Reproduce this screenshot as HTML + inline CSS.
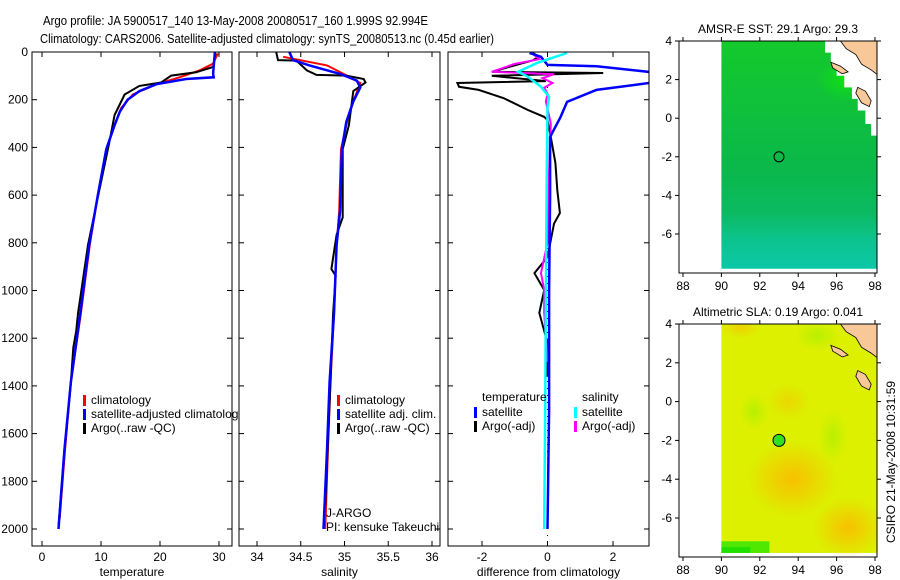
<!DOCTYPE html>
<html><head><meta charset="utf-8"><style>
html,body{margin:0;padding:0;background:#fff;}
svg{display:block;font-family:"Liberation Sans",sans-serif;}
text{font-size:12px;fill:#000;}
</style></head><body>
<svg id="fig" width="900" height="580" viewBox="0 0 900 580" xmlns="http://www.w3.org/2000/svg">
<defs>
<clipPath id="c1"><rect x="32" y="52" width="200" height="494"/></clipPath>
<clipPath id="c2"><rect x="239" y="52" width="201" height="494"/></clipPath>
<clipPath id="c3"><rect x="448" y="52" width="201" height="494"/></clipPath>
<linearGradient id="sstg" x1="0" y1="0" x2="0" y2="1">
<stop offset="0" stop-color="#14c92c"/><stop offset="0.3" stop-color="#0fc03c"/>
<stop offset="0.55" stop-color="#0bb84a"/><stop offset="0.75" stop-color="#0bba60"/>
<stop offset="0.88" stop-color="#0cc490"/><stop offset="1" stop-color="#0cc8a8"/>
</linearGradient>
<radialGradient id="brg"><stop offset="0" stop-color="#10e014"/><stop offset="1" stop-color="#10e014" stop-opacity="0"/></radialGradient>
<radialGradient id="org"><stop offset="0" stop-color="#f8c000"/><stop offset="1" stop-color="#f8c000" stop-opacity="0"/></radialGradient>
<radialGradient id="grg"><stop offset="0" stop-color="#b8f000"/><stop offset="1" stop-color="#b8f000" stop-opacity="0"/></radialGradient>
<clipPath id="m1c"><rect x="679" y="41" width="198" height="232"/></clipPath>
<clipPath id="m2c"><rect x="679" y="324" width="198" height="233"/></clipPath>
</defs>

<text x="43" y="25" font-size="13" style="font-size:13px" textLength="385" lengthAdjust="spacingAndGlyphs">Argo profile: JA 5900517_140 13-May-2008 20080517_160 1.999S 92.994E</text>
<text x="40" y="43" style="font-size:13px" textLength="454" lengthAdjust="spacingAndGlyphs">Climatology: CARS2006. Satellite-adjusted climatology: synTS_20080513.nc (0.45d earlier)</text>

<g id="p1"></g>
<g id="p2"></g>
<g id="p3"></g>
<g id="m1"></g>
<g id="m2"></g>

<text transform="translate(895,462) rotate(-90)" text-anchor="middle">CSIRO 21-May-2008 10:31:59</text>
</svg>
<script>
// ---------- data ----------
const tBlueD=[0,92,106,113,135,164,200,250,307,407,594,809,1096,1383,1670,2000];
const tBlueV=[29.3,29.0,29.1,24.4,19.4,16.5,14.5,13.2,12.3,10.9,9.5,8.0,6.5,4.9,3.8,2.8];
const tRedD=[6,49,77,106,135,178,235,307,407,594,809,1096,1383,1670,1957];
const tRedV=[29.8,29.0,26.7,23.3,19.4,15.4,13.4,12.3,10.9,9.5,8.1,6.6,4.9,3.9,3.0];
const tBlkD=[5,63,85,99,128,142,178,264,379,594,809,1096,1170,1240,1383,1670,1990];
const tBlkV=[29.4,29.0,26.1,21.9,20.2,16.5,14.0,12.3,11.4,9.6,7.8,6.1,5.8,5.3,4.9,3.8,2.8];

const sBlueD=[0,34,56,92,120,149,207,293,407,666,809,1096,1383,1670,2000];
const sBlueV=[34.37,34.41,34.6,34.95,35.14,35.18,35.1,35.02,34.97,34.95,34.91,34.88,34.83,34.8,34.76];
const sRedD=[20,56,92,130,207,293,407,666,809,1096,1383,1670,2000];
const sRedV=[34.3,34.8,34.99,35.18,35.1,35.03,34.96,34.94,34.91,34.88,34.84,34.81,34.78];
const sBlkD=[0,34,36,77,96,99,113,128,164,307,407,694,766,910,938,1096,1383,1900];
const sBlkV=[34.22,34.24,34.45,34.57,34.68,35.02,35.22,35.24,35.1,35.05,34.98,34.98,34.91,34.85,34.9,34.87,34.84,34.78];

const dTsD=[4,20,54,60,88,130,159,209,272,356,600,1000,1500,2000];
const dTsV=[-0.55,-0.2,0.0,1.5,3.4,3.1,1.5,0.6,0.4,0.08,0.08,0.05,0.05,0.0];
const dTaD=[4,20,35,83,88,100,122,130,146,159,193,243,272,285,356,465,579,675,720,860,927,998,1094,1220,1362];
const dTaV=[-0.45,-0.25,-0.45,-1.7,1.7,-1.7,-0.05,-2.75,-2.7,-2.1,-1.35,-0.6,-0.1,0.0,0.1,0.24,0.3,0.38,0.2,0.0,-0.4,-0.1,-0.25,0.0,0.0];
const dSsD=[4,45,83,104,146,188,230,500,1000,1500,2000];
const dSsV=[0.6,-0.3,-0.9,-0.6,-0.2,0.05,0.0,-0.02,-0.05,-0.07,-0.1];
const dSaD=[8,30,50,83,93,110,130,150,175,208,300,500,800,927,998,1094,1300];
const dSaV=[-0.45,-0.25,-1.0,-1.7,0.2,-0.15,0.15,-0.1,0.0,-0.05,0.1,0.05,0.0,-0.2,-0.1,-0.1,0.0];

const depthTicks=[0,200,400,600,800,1000,1200,1400,1600,1800,2000];
const tTicks=[0,10,20,30];
const sTicks=[34,34.5,35,35.5,36];
const dTicks=[-2,0,2];
const lonTicks=[88,90,92,94,96,98];
const latTicks=[-6,-4,-2,0,2,4];

// ---------- scales ----------
const yD=d=>52+d*0.2385;
const xT=t=>42+t*5.9;
const xS=s=>257+(s-34)*87.5;
const xDf=v=>547.5+v*32.75;
const NS='http://www.w3.org/2000/svg';
function mk(tag,attrs,parent){const e=document.createElementNS(NS,tag);for(const k in attrs)e.setAttribute(k,attrs[k]);parent.appendChild(e);return e;}
function txt(parent,x,y,s,anchor){const e=mk('text',{x:x,y:y,'text-anchor':anchor||'start'},parent);e.textContent=s;return e;}

function panel(g,x0,x1,clip,xfn,xt,xlabel,showY){
  const bg=mk('rect',{x:x0,y:52,width:x1-x0,height:494,fill:'#fff',stroke:'none'},g);
  
  
  depthTicks.forEach(d=>{const y=yD(d);
    mk('line',{x1:x0,y1:y,x2:x0+5,y2:y,stroke:'#000'},g);
    mk('line',{x1:x1,y1:y,x2:x1-5,y2:y,stroke:'#000'},g);
    if(showY){const t=txt(g,28,y+4,String(d),'end');
      
      }
  });
  xt.forEach(v=>{const x=xfn(v);
    mk('line',{x1:x,y1:546,x2:x,y2:541,stroke:'#000'},g);
    mk('line',{x1:x,y1:52,x2:x,y2:57,stroke:'#000'},g);
    const t=txt(g,x,561,String(v),'middle');
    
    
  });
  const xl=txt(g,(x0+x1)/2,576,xlabel,'middle');
  
  
  const lg=mk('g',{'clip-path':'url(#'+clip+')'},g);
  return lg;
}
function line(g,D,V,xfn,color,w,name){
  const pts=D.map((d,i)=>xfn(V[i]).toFixed(1)+','+yD(d).toFixed(1)).join(' ');
  const p=mk('polyline',{points:pts,fill:'none',stroke:color,'stroke-width':w,'stroke-linejoin':'miter'},g);
  
  
}
function frame(g,x0,x1){mk('rect',{x:x0,y:52,width:x1-x0,height:494,fill:'none',stroke:'#000','stroke-width':1},g);}
function legend(g,x,y,color,label,name){
  mk('rect',{x:x-8,y:y-9,width:3,height:11,fill:color},g);
  const t=txt(g,x,y,label);
  
  
}

// panel 1
const p1=document.getElementById('p1');
const l1=panel(p1,32,232,'c1',xT,tTicks,'temperature',true);
line(l1,tRedD,tRedV,xT,'#f00',2,'climatology-temp-line');
line(l1,tBlkD,tBlkV,xT,'#000',2,'argo-temp-line');
line(l1,tBlueD,tBlueV,xT,'#00f',2.5,'satellite-temp-line');
frame(p1,32,232);
legend(p1,91,404,'#f00','climatology','legend-climatology');
legend(p1,91,418,'#00f','satellite-adjusted climatology','legend-satellite');
legend(p1,91,432,'#000','Argo(..raw -QC)','legend-argo');

// panel 2
const p2=document.getElementById('p2');
const l2=panel(p2,239,440,'c2',xS,sTicks,'salinity',false);
line(l2,sRedD,sRedV,xS,'#f00',2,'climatology-sal-line');
line(l2,sBlkD,sBlkV,xS,'#000',2,'argo-sal-line');
line(l2,sBlueD,sBlueV,xS,'#00f',2.5,'satellite-sal-line');
frame(p2,239,440);
legend(p2,345,404,'#f00','climatology','legend-climatology-2');
legend(p2,345,418,'#00f','satellite adj. clim.','legend-satellite-2');
legend(p2,345,432,'#000','Argo(..raw -QC)','legend-argo-2');

// panel 3
const p3=document.getElementById('p3');
const l3=panel(p3,448,649,'c3',xDf,dTicks,'difference from climatology',false);
mk('line',{x1:xDf(0),y1:52,x2:xDf(0),y2:546,stroke:'#000','stroke-dasharray':'1,6'},l3);
line(l3,dTaD,dTaV,xDf,'#000',2,'argo-temp-diff-line');
line(l3,dSaD,dSaV,xDf,'#f0f',2,'argo-sal-diff-line');
line(l3,dTsD,dTsV,xDf,'#00f',2.5,'satellite-temp-diff-line');
line(l3,dSsD,dSsV,xDf,'#0ff',2.5,'satellite-sal-diff-line');
frame(p3,448,649);
const tl=txt(p3,482,401,'temperature');
const sl=txt(p3,582,401,'salinity');
legend(p3,482,416,'#00f','satellite','legend-temp-satellite');
legend(p3,482,430,'#000','Argo(-adj)','legend-temp-argo');
legend(p3,582,416,'#0ff','satellite','legend-sal-satellite');
legend(p3,582,430,'#f0f','Argo(-adj)','legend-sal-argo');

// texts over panels
const ja=txt(p2,326,517,'J-ARGO');
const pi=txt(p2,326,531,'PI: kensuke Takeuchi');

// ---------- maps ----------
function map(g,top,bot,lat4,dy,clip,title,isSst){
  const lx=l=>683+(l-88)*19.2, ly=a=>lat4+(4-a)*dy;
  const tt=txt(g,778,top-8,title,'middle');
  
  
  const c=mk('g',{'clip-path':'url(#'+clip+')'},g);
  const x0=lx(90),y0=ly(4),y1=ly(-7.8);
  if(isSst){
    mk('rect',{x:x0,y:y0,width:lx(98.2)-x0,height:y1-y0,fill:'url(#sstg)'},c);
    mk('ellipse',{cx:lx(96.5),cy:ly(2),rx:30,ry:22,fill:'url(#brg)'},c);
    // no-data coastal staircase
    const st=[[95.4,4],[95.4,3.4],[95.7,3.4],[95.7,2.8],[96.0,2.8],[96.0,2.2],[96.4,2.2],[96.4,1.6],[96.8,1.6],[96.8,1.0],[97.1,1.0],[97.1,0.4],[97.5,0.4],[97.5,-0.3],[97.8,-0.3],[97.8,-0.9],[98.2,-0.9],[98.2,4]];
    mk('polygon',{points:st.map(p=>lx(p[0])+','+ly(p[1])).join(' '),fill:'#fff'},c);
  } else {
    mk('rect',{x:x0,y:y0,width:lx(98.2)-x0,height:y1-y0,fill:'#dcf000'},c);
    mk('ellipse',{cx:lx(93.7),cy:ly(-4),rx:45,ry:38,fill:'url(#org)'},c);
    mk('ellipse',{cx:lx(96.6),cy:ly(-6.5),rx:35,ry:30,fill:'url(#org)'},c);
    mk('ellipse',{cx:lx(93.5),cy:ly(0),rx:22,ry:18,fill:'url(#org)',opacity:0.5},c);
    mk('ellipse',{cx:lx(91),cy:ly(3.8),rx:20,ry:10,fill:'url(#org)',opacity:0.6},c);
    mk('ellipse',{cx:lx(95.8),cy:ly(-1.8),rx:14,ry:26,fill:'url(#grg)'},c);
    mk('ellipse',{cx:lx(91.7),cy:ly(-0.5),rx:14,ry:18,fill:'url(#grg)'},c);
    mk('ellipse',{cx:lx(95),cy:ly(3.4),rx:22,ry:14,fill:'url(#grg)'},c);
    mk('rect',{x:x0,y:ly(-7.2),width:lx(92.5)-x0,height:y1-ly(-7.2),fill:'#50e800'},c);
    mk('rect',{x:x0,y:ly(-7.5),width:lx(91.5)-x0,height:y1-ly(-7.5),fill:'#20e000'},c);
  }
  const land=[[96.2,4],[96.5,3.6],[97,3.3],[97.3,2.8],[97.8,2.5],[98.2,2.2],[98.2,4]];
  mk('polygon',{points:land.map(p=>lx(p[0])+','+ly(p[1])).join(' '),fill:'#f8c898',stroke:'#000','stroke-width':0.8},c);
  mk('polygon',{points:[[95.7,2.9],[96.2,2.7],[96.6,2.4],[96.3,2.3],[95.8,2.6]].map(p=>lx(p[0])+','+ly(p[1])).join(' '),fill:'#f8c898',stroke:'#000','stroke-width':0.8},c);
  mk('polygon',{points:[[97.1,1.6],[97.5,1.4],[97.8,0.9],[97.7,0.6],[97.3,0.8],[97.0,1.3]].map(p=>lx(p[0])+','+ly(p[1])).join(' '),fill:'#f8c898',stroke:'#000','stroke-width':0.8},c);
  const fx=lx(93),fy=ly(-2);
  const mkr=mk('circle',{cx:fx,cy:fy,r:isSst?5:6,fill:isSst?'none':'#30e020',stroke:'#000','stroke-width':1},g);
  
  
  mk('rect',{x:679,y:top,width:198,height:bot-top,fill:'none',stroke:'#000'},g);
  lonTicks.forEach(l=>{const x=lx(l);
    mk('line',{x1:x,y1:bot,x2:x,y2:bot+4,stroke:'#000'},g);
    mk('line',{x1:x,y1:top,x2:x,y2:top-4,stroke:'#000'},g);
    const t=txt(g,x,bot+17,String(l),'middle');
    
    });
  latTicks.forEach(a=>{const y=ly(a);
    mk('line',{x1:679,y1:y,x2:675,y2:y,stroke:'#000'},g);
    mk('line',{x1:877,y1:y,x2:881,y2:y,stroke:'#000'},g);
    const t=txt(g,672,y+4,String(a),'end');
    
    });
}
map(document.getElementById('m1'),41,273,41,19.3,'m1c','AMSR-E SST: 29.1 Argo: 29.3',true);
map(document.getElementById('m2'),324,557,324,19.4,'m2c','Altimetric SLA: 0.19 Argo: 0.041',false);
</script>
</body></html>
